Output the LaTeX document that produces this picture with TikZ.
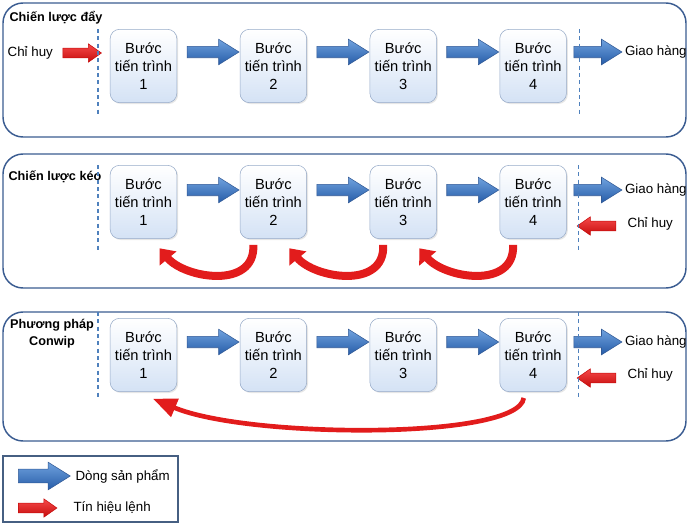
\documentclass[tikz,border=0pt]{standalone}
\usepackage{fontspec}
\setmainfont{Liberation Sans}
\usetikzlibrary{positioning,calc,shapes.arrows,shadows,arrows.meta}

\definecolor{panelblue}{RGB}{58,92,145}
\definecolor{dashblue}{RGB}{79,129,189}
\definecolor{procedge}{RGB}{150,170,200}
\definecolor{procfill}{RGB}{212,226,245}
\definecolor{flowtop}{RGB}{112,162,222}
\definecolor{flowbot}{RGB}{38,92,168}
\definecolor{flowedge}{RGB}{50,90,150}
\definecolor{cmdtop}{RGB}{246,74,74}
\definecolor{cmdbot}{RGB}{198,12,12}
\definecolor{pullred}{RGB}{226,28,28}
\definecolor{legendedge}{RGB}{70,95,130}

\begin{document}
\begin{tikzpicture}[x=0.75pt, y=-0.75pt,
panel/.style={draw=panelblue, line width=1.1pt, rounded corners=15pt},
proc/.style={rectangle, rounded corners=7pt, draw=procedge, top color=white, bottom color=procfill, minimum width=50pt, minimum height=55pt, inner sep=1pt, align=center, font=\fontsize{11}{13.5}\selectfont, drop shadow={opacity=0.2, shadow xshift=1pt, shadow yshift=-1pt}},
flow/.style={single arrow, draw=flowedge, top color=flowtop, bottom color=flowbot, inner xsep=0pt, inner ysep=4.1pt, minimum width=0pt, minimum height=39pt, single arrow head extend=5.3pt, single arrow tip angle=64},
cmd/.style={single arrow, draw=cmdbot, top color=cmdtop, bottom color=cmdbot, inner xsep=0pt, inner ysep=3.4pt, minimum width=0pt, minimum height=29pt, single arrow head extend=3.3pt, single arrow tip angle=70},
pull/.style={draw=pullred, line width=6pt, -{Triangle[length=10pt, width=16pt]}},
conwip/.style={draw=pullred, line width=3.5pt, -{Triangle[length=18pt, width=14pt]}},
sep/.style={draw=dashblue, line width=0.9pt, dash pattern=on 3pt off 2.5pt},
title/.style={font=\bfseries\fontsize{9.5}{12.75}\selectfont, align=center, inner sep=1pt},
lbl/.style={font=\fontsize{10}{12}\selectfont, inner sep=1pt}
]
\useasboundingbox (0,0) rectangle (689,526);

%Panels
\draw[panel] (3,3)   rectangle (686,137);
\draw[panel] (3,154) rectangle (686,288);
\draw[panel] (3,312) rectangle (686,441);
\draw[draw=legendedge, line width=1pt] (3,456) rectangle (178,522);

%Chien luoc day
\node[title, anchor=west]	(t1)	at (8,18)	{Chiến lược đẩy};
\node[proc]	(s11)	at (143.5,66)			{Bước\\ tiến trình\\ 1};
\node[proc]	(s12)	[right=47pt of s11]		{Bước\\ tiến trình\\ 2};
\node[proc]	(s13)	[right=47pt of s12]		{Bước\\ tiến trình\\ 3};
\node[proc]	(s14)	[right=47pt of s13]		{Bước\\ tiến trình\\ 4};
\node[flow]	(f112)	at ($(s11.east)!0.5!(s12.west)+(0,-14)$)	{};
\node[flow]	(f123)	at ($(s12.east)!0.5!(s13.west)+(0,-14)$)	{};
\node[flow]	(f134)	at ($(s13.east)!0.5!(s14.west)+(0,-14)$)	{};
\node[flow, anchor=tail, minimum height=36pt]	(out1)	at ($(s14.east)+(7,-14)$)	{};
\node[lbl, anchor=west]	(giao1)	at ($(out1.tip)+(1,0)$)	{Giao hàng};
\node[cmd, anchor=tip]	(cmd1)	at ($(s11.west)+(-8,-13)$)	{};
\node[lbl, anchor=east]	(chi1)	at ($(cmd1.tail)+(-8,0)$)	{Chỉ huy};
\draw[sep] ($(s11.north west)+(-12,0)$) -- ($(s11.south west)+(-12,12)$);
\draw[sep] ($(s14.north east)+(13,0)$) -- ($(s14.south east)+(13,14)$);

%Chien luoc keo
\node[title, anchor=west]	(t2)	at (7,177)	{Chiến lược kéo};
\node[proc]	(s21)	at (143.5,202)			{Bước\\ tiến trình\\ 1};
\node[proc]	(s22)	[right=47pt of s21]		{Bước\\ tiến trình\\ 2};
\node[proc]	(s23)	[right=47pt of s22]		{Bước\\ tiến trình\\ 3};
\node[proc]	(s24)	[right=47pt of s23]		{Bước\\ tiến trình\\ 4};
\node[flow]	(f212)	at ($(s21.east)!0.5!(s22.west)+(0,-12)$)	{};
\node[flow]	(f223)	at ($(s22.east)!0.5!(s23.west)+(0,-12)$)	{};
\node[flow]	(f234)	at ($(s23.east)!0.5!(s24.west)+(0,-12)$)	{};
\node[flow, anchor=tail, minimum height=36pt]	(out2)	at ($(s24.east)+(7,-12)$)	{};
\node[lbl, anchor=west]	(giao2)	at ($(out2.tip)+(1,0)$)	{Giao hàng};
\node[cmd, shape border rotate=180, anchor=tip]	(cmd2)	at ($(s24.east)+(10,24)$)	{};
\node[lbl, anchor=west]	(chi2)	at ($(cmd2.tail)+(10,-2)$)	{Chỉ huy};
\draw[sep] ($(s21.north west)+(-12,0)$) -- ($(s21.south west)+(-12,11)$);
\draw[sep] ($(s24.north east)+(12,0)$) -- ($(s24.south east)+(12,11)$);
\draw[pull] ([xshift=-15pt,yshift=-4.5pt]s22.south) .. controls +(2,45) and +(25,30) .. ([xshift=12pt,yshift=-7pt]s21.south);
\draw[pull] ([xshift=-15pt,yshift=-4.5pt]s23.south) .. controls +(2,45) and +(25,30) .. ([xshift=12pt,yshift=-7pt]s22.south);
\draw[pull] ([xshift=-15pt,yshift=-4.5pt]s24.south) .. controls +(2,45) and +(25,30) .. ([xshift=12pt,yshift=-7pt]s23.south);

%Phuong phap Conwip
\node[title]	(t3)	at (52,334)	{Phương pháp\\ Conwip};
\node[proc]	(s31)	at (143.5,355)			{Bước\\ tiến trình\\ 1};
\node[proc]	(s32)	[right=47pt of s31]		{Bước\\ tiến trình\\ 2};
\node[proc]	(s33)	[right=47pt of s32]		{Bước\\ tiến trình\\ 3};
\node[proc]	(s34)	[right=47pt of s33]		{Bước\\ tiến trình\\ 4};
\node[flow]	(f312)	at ($(s31.east)!0.5!(s32.west)+(0,-13)$)	{};
\node[flow]	(f323)	at ($(s32.east)!0.5!(s33.west)+(0,-13)$)	{};
\node[flow]	(f334)	at ($(s33.east)!0.5!(s34.west)+(0,-13)$)	{};
\node[flow, anchor=tail, minimum height=36pt]	(out3)	at ($(s34.east)+(7,-13)$)	{};
\node[lbl, anchor=west]	(giao3)	at ($(out3.tip)+(1,0)$)	{Giao hàng};
\node[cmd, shape border rotate=180, anchor=tip]	(cmd3)	at ($(s34.east)+(10,23)$)	{};
\node[lbl, anchor=west]	(chi3)	at ($(cmd3.tail)+(10,-3)$)	{Chỉ huy};
\draw[sep] ($(s31.north west)+(-12,-6)$) -- ($(s31.south west)+(-12,6)$);
\draw[sep] ($(s34.north east)+(12,-6)$) -- ($(s34.south east)+(12,6)$);
\draw[conwip] ([xshift=-7pt,yshift=-4.5pt]s34.south) .. controls +(-5,42) and +(95,40) .. ([xshift=7pt,yshift=-5pt]s31.south);

%Legend
\node[flow, anchor=tail, inner ysep=4.9pt, single arrow head extend=5.3pt]	(lgflow)	at (18,476)	{};
\node[lbl, anchor=west]	(lgflowtxt)	at (74,476)	{Dòng sản phẩm};
\node[cmd, anchor=tail]	(lgcmd)	at (18,508)	{};
\node[lbl, anchor=west]	(lgcmdtxt)	at (72,508)	{Tín hiệu lệnh};

\end{tikzpicture}
\end{document}
